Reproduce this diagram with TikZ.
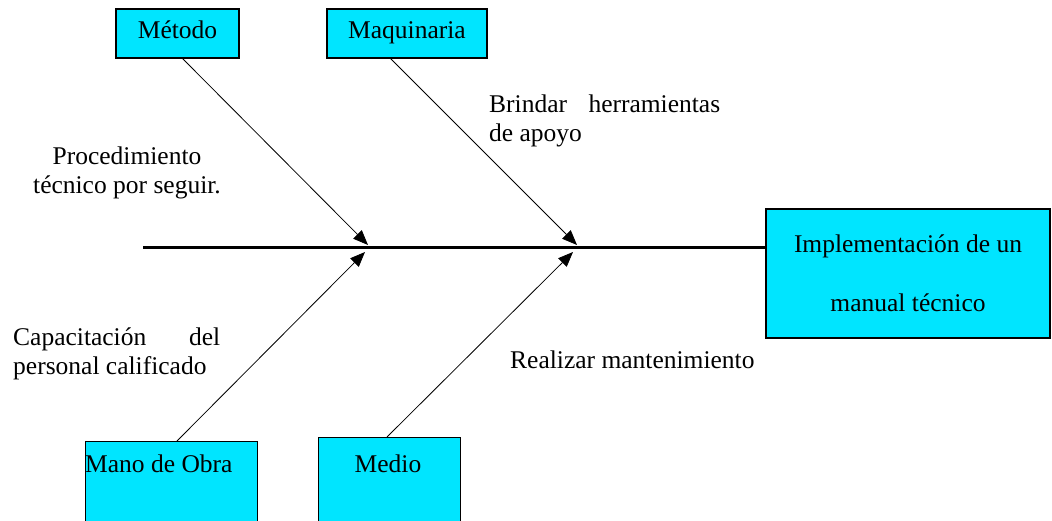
\documentclass[tikz,border=0pt]{standalone}
\usepackage{fontspec}
\setmainfont{Liberation Serif}
\usetikzlibrary{arrows.meta}
\definecolor{boxcyan}{RGB}{0,229,255}
\begin{document}
\begin{tikzpicture}[x=1pt,y=-1pt,
  every node/.style={font=\fontsize{25.5}{29}\selectfont, inner sep=0pt},
  cbox/.style={draw=black, line width=1.3pt, fill=boxcyan, rectangle, inner sep=0pt},
  topbox/.style={cbox, minimum height=49pt, text height=17pt, text depth=6pt},
  bone/.style={line width=0.8pt, -{Triangle[length=15pt,width=12pt]}},
  txt/.style={align=left}]
\useasboundingbox (0,0) rectangle (1052,521);
% boxes
\node[topbox, minimum width=123pt] (metodo) at (177.5,33.5) {Método};
\node[topbox, minimum width=160pt] (maq) at (407,33.5) {Maquinaria};
\node[cbox, minimum width=284pt, minimum height=129pt, align=center] (impl) at (908,273.5) {Implementación de un\\[30pt]manual técnico};
\node[cbox, minimum width=172pt, minimum height=95pt, anchor=north west] (mano) at (85,441) {};
\node[cbox, minimum width=142pt, minimum height=95pt, anchor=north west] (medio) at (318,437) {};
\node[anchor=base west] (manotxt) at (85,472) {Mano de Obra};
\node[anchor=base] (mediotxt) at (388,472) {Medio};
% spine
\coordinate (s0) at (143,248);
\draw[line width=3pt] (s0) -- (s0 -| impl.west);
% bones
\coordinate (a1) at (182,58);  \coordinate (t1) at (368,245);
\coordinate (a2) at (390,58);  \coordinate (t2) at (577,245);
\coordinate (a3) at (177,441); \coordinate (t3) at (365,252);
\coordinate (a4) at (387,437); \coordinate (t4) at (573,252);
\draw[bone] (a1) -- (t1);
\draw[bone] (a2) -- (t2);
\draw[bone] (a3) -- (t3);
\draw[bone] (a4) -- (t4);
% labels (base anchor = last line baseline)
\node[align=center, anchor=base] (proc) at (127,194) {Procedimiento\\técnico por seguir.};
\node[txt, anchor=base west] (brin) at (489,142) {\makebox[231pt][s]{Brindar herramientas}\\de apoyo};
\node[txt, anchor=base west] (capa) at (13,374) {\makebox[207pt][s]{Capacitación del}\\personal calificado};
\node[anchor=base west] (real) at (510,368) {Realizar mantenimiento};
\end{tikzpicture}
\end{document}
